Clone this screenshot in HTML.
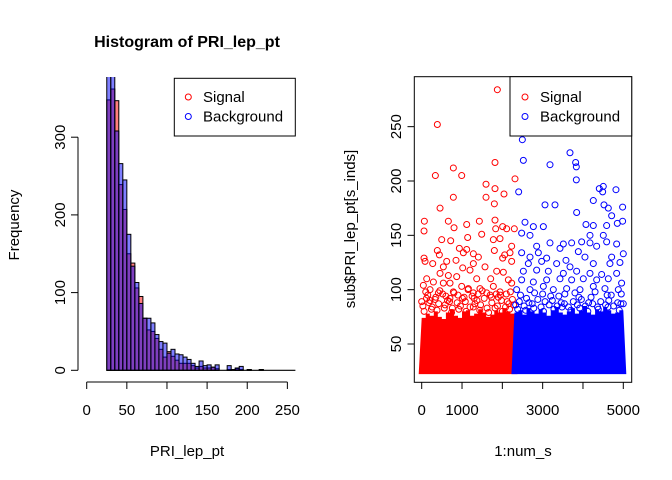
<!DOCTYPE html>
<html><head><meta charset="utf-8">
<style>
html,body{margin:0;padding:0;background:#fff;}
svg{display:block;font-family:"Liberation Sans",Arial,sans-serif;}
</style></head>
<body>
<svg id="chart" width="672" height="480" viewBox="0 0 672 480" xmlns="http://www.w3.org/2000/svg">
<rect width="672" height="480" fill="#fff"/>
<defs><clipPath id="hclip"><rect x="60" y="77" width="260" height="310"/></clipPath>
<clipPath id="sclip"><rect x="414.3" y="76.7" width="217.4" height="305.6"/></clipPath></defs>
<g id="hist">
  <text x="187" y="47" text-anchor="middle" font-size="16" font-weight="bold">Histogram of PRI_lep_pt</text>
  <text transform="translate(19,225) rotate(-90)" text-anchor="middle" font-size="15">Frequency</text>
  <text x="187" y="456" text-anchor="middle" font-size="15">PRI_lep_pt</text>
  <g id="hbars" clip-path="url(#hclip)"></g>
  <g id="haxes"></g>
  <g>
    <rect x="174.3" y="78.3" width="121" height="57.7" fill="#fff" stroke="#000"/>
    <circle cx="188.3" cy="97" r="3" fill="none" stroke="#f00"/>
    <text x="203" y="102" font-size="15">Signal</text>
    <circle cx="188.3" cy="116.5" r="3" fill="none" stroke="#00f"/>
    <text x="203" y="121.5" font-size="15">Background</text>
  </g>
</g>
<g id="scatter">
  <text transform="translate(355,229) rotate(-90)" text-anchor="middle" font-size="15">sub$PRI_lep_pt[s_inds]</text>
  <text x="523" y="456" text-anchor="middle" font-size="15">1:num_s</text>
  <g id="spts" clip-path="url(#sclip)"></g>
  <rect x="414.3" y="76.7" width="217.4" height="305.6" fill="none" stroke="#000"/>
  <g id="saxes"></g>
  <g>
    <rect x="510" y="76.7" width="121.7" height="59.3" fill="#fff" stroke="#000"/>
    <circle cx="525" cy="97" r="3" fill="none" stroke="#f00"/>
    <text x="540" y="102" font-size="15">Signal</text>
    <circle cx="525" cy="116.5" r="3" fill="none" stroke="#00f"/>
    <text x="540" y="121.5" font-size="15">Background</text>
  </g>
</g>
</svg>
<script>
const binStart = 25, binWidth = 5;
const signalCounts = [348,362,347,239,207,150,138,106,95,67,52,50,41,27,17,24,18,13,9,9,9,6,3,5,3,3,4,2,0,0,1,1,2,1,0,1,0,0,1,0,0,0,0,0,0,0,0];
const backgroundCounts = [420,400,308,266,245,175,134,113,86,67,67,61,46,37,35,22,27,21,20,17,14,9,5,12,6,7,4,7,0,0,6,0,3,5,0,1,0,0,1,0,0,0,0,0,0,0,0];
const histXTicks = [0,50,100,150,200,250];
const histYTicks = [0,100,200,300];

const scatterXTicks = [0,1000,2000,3000,4000,5000];
const scatterXLabels = ["0","1000","","3000","","5000"];
const scatterYTicks = [50,100,150,200,250];
const splitIndex = 2300, numS = 5000;
const signalEnvelope = [74,78,76,80,75,73,79,82,76,74,80,81,76,78,82,79,75,77,81,79,83,80,78];
const backgroundEnvelope = [79,81,77,83,80,78,82,79,76,81,84,79,77,80,83,78,81,85,79,77,82,80,84,81,78,79,81];
const signalIdx = [1876,388,339,785,992,1818,2314,1595,1818,2041,785,1595,1802,455,66,58,661,802,1116,1430,1488,1818,1835,2008,2107,2297,496,719,1140,1777,1942,388,438,934,1033,1116,1281,1405,2231,2190,1802,2008,620,851,1281,1570,2058,2231,58,83,273,537,1017,1198,1860,455,661,868,1364,1711,2025,124,290,537,702,992,1157,1446,1777,2149,2231,41,207,413,785,1281,1612,1942,0,207,150,350,520,700,900,1050,1250,1400,1550,1700,1900,2100,2250,100,450,800,1150,1500,1850,2200,600,1300,1950,
  30,180,260,420,580,640,760,880,960,1080,1200,1320,1460,1620,1740,1880,1980,2080,2160,2280,60,240,380,560,740,920,1100,1280,1440,1660,1820,2000,2180,120,330,690,1010,1370,1730,2120];
const signalVal = [284,252,205,212,205,217,202,197,193,188,185,185,179,175,163,154,163,157,160,163,151,164,156,158,156,156,146,145,148,146,147,136,132,138,134,137,133,130,140,134,136,129,126,127,124,121,132,126,129,126,124,121,120,118,117,115,113,112,110,110,116,110,107,106,106,103,101,101,103,109,106,104,100,97,98,97,97,98,89,90,95,93,96,92,95,93,94,96,92,95,93,96,91,98,99,97,100,99,96,98,94,92,95,
  85,88,84,87,86,90,83,88,85,89,84,87,86,83,88,85,90,84,87,86,80,82,81,83,79,82,80,84,81,79,83,80,82,92,91,89,92,90,93,89];
const backgroundIdx = [2496,2521,2405,3182,3678,3818,3835,3835,3058,3306,3843,4256,4405,4504,4488,4818,4521,4628,4983,4711,4983,2562,2769,3017,4074,4256,4587,4851,2479,2686,3182,3513,3719,4174,4504,4174,4587,2851,3967,4835,2479,2893,3430,3885,4339,5000,2686,3099,3578,4049,4711,2645,2975,3347,3678,4256,4669,4917,2521,2851,3141,3513,3843,4174,4463,4835,2479,2769,3099,3430,3719,4008,4339,4628,4958,2355,2686,3017,3264,3595,3926,4256,4545,4876,5000,2450,2800,3200,3550,3900,4300,4700,2600,3000,3400,3800,4200,4600,4950,
  2330,2420,2540,2660,2740,2880,2960,3060,3160,3240,3360,3460,3540,3640,3760,3860,3960,4060,4140,4240,4360,4440,4560,4640,4760,4860,4940,2380,2580,2780,3020,3280,3480,3700,3920,4120,4380,4620,4900];
const backgroundVal = [238,219,190,215,226,217,213,201,178,178,171,182,193,195,190,192,178,175,176,168,163,162,158,158,160,159,159,161,152,150,143,142,143,150,150,143,144,140,144,142,134,134,138,135,140,133,130,129,127,130,130,124,126,124,121,124,124,125,117,118,117,115,117,115,114,115,109,107,109,110,109,110,109,110,106,100,100,103,100,101,100,103,101,100,87,95,97,94,96,93,98,95,92,96,94,97,93,95,96,
  86,89,85,88,87,91,84,89,86,90,85,88,87,84,89,86,91,85,88,87,84,89,86,90,85,88,87,82,81,83,80,82,84,81,83,80,82,84,81];

const NS='http://www.w3.org/2000/svg';
function mk(tag, attrs, parent){const e=document.createElementNS(NS,tag);for(const k in attrs)e.setAttribute(k,attrs[k]);parent.appendChild(e);return e;}

const hx = v => 86.7 + v*0.8027;
const hy = v => 370.3 - v*0.777;
const hb = document.getElementById('hbars');
function drawBars(counts, color, nm){
  counts.forEach((c,i)=>{
    const x0=hx(binStart+i*binWidth), x1=hx(binStart+(i+1)*binWidth);
    const r=mk('rect',{x:x0,y:hy(c),width:x1-x0,height:hy(0)-hy(c),fill:color,stroke:'#000','stroke-width':1},hb);
    
    
  });
}
drawBars(signalCounts,'rgba(255,0,0,0.5)','bar-signal');
drawBars(backgroundCounts,'rgba(0,0,255,0.5)','bar-background');
const base=mk('line',{x1:hx(binStart),x2:hx(binStart+signalCounts.length*binWidth),y1:hy(0),y2:hy(0),stroke:'#000','stroke-width':1.2},hb);


const ha=document.getElementById('haxes');
let l=mk('line',{x1:hx(histXTicks[0]),x2:hx(histXTicks[histXTicks.length-1]),y1:382,y2:382,stroke:'#000'},ha);


histXTicks.forEach(t=>{
  mk('line',{x1:hx(t),x2:hx(t),y1:382,y2:389,stroke:'#000'},ha);
  const tx=mk('text',{x:hx(t),y:415,'text-anchor':'middle','font-size':15},ha);tx.textContent=t;
  
  
});
l=mk('line',{x1:78,x2:78,y1:hy(histYTicks[0]),y2:hy(histYTicks[histYTicks.length-1]),stroke:'#000'},ha);


histYTicks.forEach(t=>{
  mk('line',{x1:71,x2:78,y1:hy(t),y2:hy(t),stroke:'#000'},ha);
  const tx=mk('text',{transform:`translate(65,${hy(t)}) rotate(-90)`,'text-anchor':'middle','font-size':15},ha);tx.textContent=t;
  
  
});

const sx = v => 421.7 + v*0.04032;
const sy = v => 344 - (v-50)*1.0867;
const sp=document.getElementById('spts');
function band(env, start, end, color, nm){
  const step=(end-start)/env.length;
  let pts=[[sx(start)-3, sy(25)+3]];
  env.forEach((v,i)=>{pts.push([sx(start+i*step),sy(v)]);pts.push([sx(start+(i+1)*step),sy(v)]);});
  pts.push([sx(end)+3, sy(25)+3]);
  const p=mk('polygon',{points:pts.map(q=>q.join(',')).join(' '),fill:color},sp);
  
  
}
band(signalEnvelope,0,splitIndex,'#f00','signal-dense-band');
band(backgroundEnvelope,splitIndex,numS,'#00f','background-dense-band');
function pts(idx, vals, color, nm){
  idx.forEach((ix,i)=>{
    const c=mk('circle',{cx:sx(ix),cy:sy(vals[i]),r:3,fill:'none',stroke:color,'stroke-width':1},sp);
    
    
  });
}
pts(signalIdx,signalVal,'#f00','point-signal');
pts(backgroundIdx,backgroundVal,'#00f','point-background');
const sa=document.getElementById('saxes');
scatterXTicks.forEach((t,i)=>{
  mk('line',{x1:sx(t),x2:sx(t),y1:382.3,y2:389,stroke:'#000'},sa);
  const tx=mk('text',{x:sx(t),y:415,'text-anchor':'middle','font-size':15},sa);tx.textContent=scatterXLabels[i];
  
  
});
scatterYTicks.forEach(t=>{
  mk('line',{x1:407.5,x2:414.3,y1:sy(t),y2:sy(t),stroke:'#000'},sa);
  const tx=mk('text',{transform:`translate(401,${sy(t)}) rotate(-90)`,'text-anchor':'middle','font-size':15},sa);tx.textContent=t;
  
  
});
</script>
</body></html>
